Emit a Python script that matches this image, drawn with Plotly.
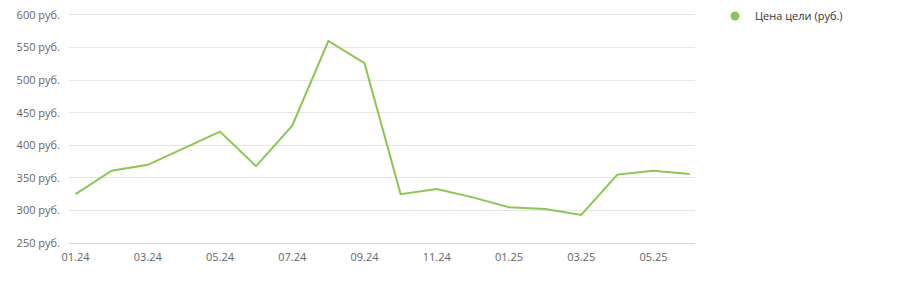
import plotly.graph_objects as go

months = ["01.24", "02.24", "03.24", "04.24", "05.24", "06.24", "07.24", "08.24", "09.24",
          "10.24", "11.24", "12.24", "01.25", "02.25", "03.25", "04.25", "05.25", "06.25"]
target_price = [325, 361, 370, 395, 421, 368, 430, 560, 526,
                325, 333, 320, 305, 302, 293, 355, 361, 356]
x_tick_labels = ["01.24", "03.24", "05.24", "07.24", "09.24", "11.24", "01.25", "03.25", "05.25"]
y_ticks = [250, 300, 350, 400, 450, 500, 550, 600]
y_tick_labels = ["250 руб.", "300 руб.", "350 руб.", "400 руб.", "450 руб.", "500 руб.", "550 руб.", "600 руб."]
series_name = "Цена цели (руб.)"

GREEN = "#8cc653"
FONT = "Open Sans, Segoe UI, sans-serif"

fig = go.Figure()
fig.add_trace(go.Scatter(
    x=months, y=target_price, mode="lines",
    line=dict(color=GREEN, width=2),
    showlegend=False, hoverinfo="x+y",
))
fig.add_trace(go.Scatter(
    x=[None], y=[None], mode="markers", name=series_name,
    marker=dict(color=GREEN, size=9, symbol="circle"),
))

fig.update_layout(
    width=900, height=284,
    margin=dict(l=69, r=205, t=13, b=41, autoexpand=False),
    paper_bgcolor="white", plot_bgcolor="white",
    font=dict(family=FONT, size=11, color="#666666"),
    xaxis=dict(
        type="category", categoryorder="array", categoryarray=months,
        tickvals=x_tick_labels, ticktext=x_tick_labels,
        range=[-0.18, len(months) - 1 + 0.15],
        showgrid=False, zeroline=False,
        showline=True, linecolor="#ccd6eb", linewidth=1,
        ticks="", ticklabelstandoff=4,
        tickfont=dict(size=11, color="#666666"),
    ),
    yaxis=dict(
        range=[250, 603], tickvals=y_ticks, ticktext=y_tick_labels,
        showgrid=True, gridcolor="#e6e6e6", gridwidth=1,
        zeroline=False, showline=False, ticks="", ticklabelstandoff=8,
        tickfont=dict(size=11, color="#666666"),
    ),
    legend=dict(
        x=(715 - 69) / 626, xanchor="left",
        y=1.05, yanchor="top",
        font=dict(size=11, color="#333333", family=FONT),
        bgcolor="rgba(0,0,0,0)",
    ),
)

fig.write_html("out.html")
